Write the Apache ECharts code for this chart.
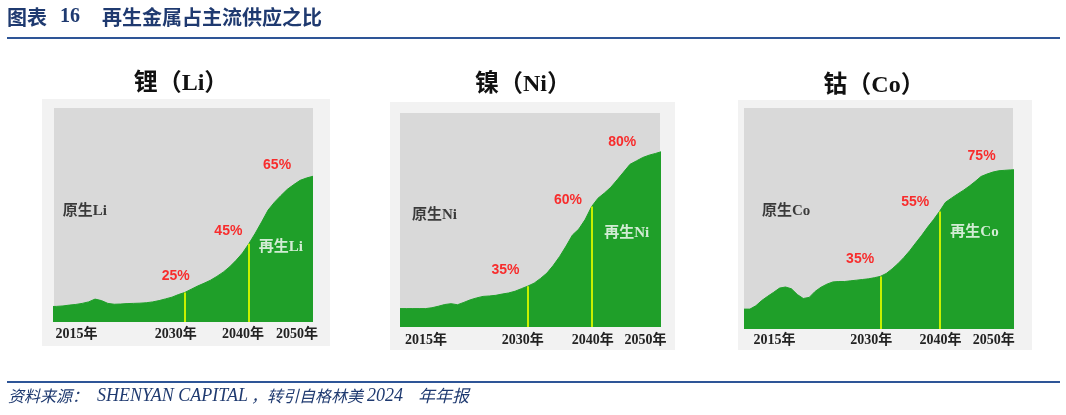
<!DOCTYPE html>
<html><head><meta charset="utf-8">
<script src="https://cdn.jsdelivr.net/npm/echarts@6/dist/echarts.min.js"></script>
<style>html,body{margin:0;padding:0;background:#fff}#c{width:1066px;height:415px}</style>
</head><body><div id="c"></div>
<script>
// ---------- data ----------
const tickYears = [2015, 2030, 2040, 2050];
const markYears = [2030, 2040];

const liYears = [2009,2010,2011,2012,2013,2014,2015,2016,2017,2018,2019,2020,2021,2022,2023,2024,2025,2026,2027,2028,2029,
                 2030,2031,2032,2033,2034,2035,2036,2037,2038,2039,2040,2041,2042,2043,2044,2045,2046,2047,2048,2049,2050];
const liValues = [7.2,7.3,7.5,7.9,8.2,8.7,9.4,10.7,10.0,8.7,8.3,8.4,8.6,8.7,8.8,9.0,9.4,10.0,10.8,11.6,12.8,
                  13.8,15.3,16.8,18.1,19.5,21.3,23.3,25.8,28.8,32.2,36.6,41.5,46.8,52.3,56.0,59.1,62.0,64.2,66.2,67.3,68.1];

const niYears = [2010,2011,2012,2013,2014,2015,2016,2017,2018,2019,2020,2021,2022,2023,2024,2025,2026,2027,2028,2029,
                 2030,2031,2032,2033,2034,2035,2036,2037,2038,2039,2040,2041,2042,2043,2044,2045,2046,2047,2048,2049,2050,2051];
const niValues = [8.6,8.6,8.6,8.6,8.6,9.0,9.7,10.5,10.9,10.4,11.5,12.7,13.6,14.3,14.5,14.8,15.4,15.9,16.7,17.9,
                  19.1,20.5,22.7,25.2,28.8,33.0,37.8,43.0,45.8,50.3,56.3,60.2,62.6,65.3,68.8,72.4,76.0,77.6,79.2,80.3,81.1,82.0];

const coYears = [2007,2008,2009,2010,2011,2012,2013,2014,2015,2016,2017,2018,2019,2020,2021,2022,2023,2024,2025,2026,2027,2028,2029,
                 2030,2031,2032,2033,2034,2035,2036,2037,2038,2039,2040,2041,2042,2043,2044,2045,2046,2047,2048,2049,2050,2051,2052,2053];
const coValues = [9.0,9.0,10.5,12.9,14.8,16.6,18.5,19.0,18.2,15.6,13.8,14.3,17.0,18.9,20.3,21.3,21.5,21.5,21.8,22.1,22.4,22.7,23.2,
                  23.8,25.1,27.2,29.6,32.4,35.5,39.0,42.4,46.1,49.5,53.2,57.3,59.2,61.0,62.7,64.6,66.7,69.0,70.1,71.0,71.6,71.8,72.0,72.1];

const liPctYears = [2028.6, 2036.8, 2044.4];
const liPctValues = [21.2, 42.6, 73.3];
const liPctTexts = ['25%', '45%', '65%'];
const niPctYears = [2026.5, 2036.3, 2044.8];
const niPctValues = [26.6, 59.3, 86.6];
const niPctTexts = ['35%', '60%', '80%'];
const coPctYears = [2026.6, 2035.9, 2047.1];
const coPctValues = [31.8, 57.6, 78.3];
const coPctTexts = ['35%', '55%', '75%'];

const panelTitles = ['锂（Li）', '镍（Ni）', '钴（Co）'];
const primaryNames = ['原生Li', '原生Ni', '原生Co'];
const recycledNames = ['再生Li', '再生Ni', '再生Co'];
const primaryAt = [[2014.4, 51.9], [2015.4, 52.3], [2014.1, 53.5]];
const recycledAt = [[2045.0, 35.0], [2045.5, 43.8], [2045.9, 44.0]];

const chartTitle = ['图表', '16', '再生金属占主流供应之比'];
const sourceParts = ['资料来源：', 'SHENYAN CAPITAL', '，', '转引自格林美', '2024', '年年报'];

// ---------- layout / style ----------
const GREEN = '#1f9f29', INNER = '#d9d9d9', OUTER = '#f2f2f2', MARK = '#c8f000', RED = '#ff0000', NAVY = '#1f3a70', RULE = '#2e5597';
const SERIF = '"Liberation Serif","Noto Sans CJK SC",serif';
const panels = [
  {years: liYears, values: liValues, px: liPctYears, pv: liPctValues, pt: liPctTexts, xr: [2009.6, 2050],
   grid: {left: 54, top: 108, width: 259, height: 214}, box: [42, 99, 288, 247], title: [181, 84], shift: [-12, -9, -6, -16], margin: 5},
  {years: niYears, values: niValues, px: niPctYears, pv: niPctValues, pt: niPctTexts, xr: [2010, 2050.7],
   grid: {left: 400, top: 113, width: 260, height: 214}, box: [390, 102, 285, 248], title: [523, 85], shift: [-6, -5, 1, -10], margin: 6},
  {years: coYears, values: coValues, px: coPctYears, pv: coPctValues, pt: coPctTexts, xr: [2007, 2052.4],
   grid: {left: 744, top: 108, width: 269, height: 221}, box: [738, 100, 294, 250], title: [874, 86], shift: [-17, -9, 1, -5], margin: 4}
];

const grids = [], xAxes = [], yAxes = [], series = [], graphics = [];
const textSeries = (i, pts, names, label) => ({
  type: 'scatter', xAxisIndex: i, yAxisIndex: i, silent: true, z: 10, symbolSize: 1,
  itemStyle: {color: 'rgba(0,0,0,0)'},
  data: pts.map((pt, k) => ({value: pt, name: names[k]})),
  label: Object.assign({show: true, position: 'inside', formatter: '{b}'}, label),
  labelLayout: {hideOverlap: false}
});
panels.forEach((p, i) => {
  grids.push(Object.assign({show: true, backgroundColor: INNER, borderWidth: 0}, p.grid));
  const rich = {};
  p.shift.forEach((s, k) => {
    rich['t' + k] = {fontFamily: SERIF, fontSize: 14, fontWeight: 'bold', color: '#222',
      padding: s < 0 ? [0, -2 * s, 0, 0] : [0, 0, 0, 2 * s]};
  });
  xAxes.push({type: 'value', gridIndex: i, min: p.xr[0], max: p.xr[1],
    axisLine: {show: false}, axisTick: {show: false}, splitLine: {show: false},
    axisLabel: {customValues: tickYears, margin: p.margin, showMinLabel: true, showMaxLabel: true,
      formatter: v => '{t' + tickYears.indexOf(v) + '|' + v + '年}', rich: rich}});
  yAxes.push({type: 'value', gridIndex: i, min: 0, max: 100, show: false});
  series.push({type: 'line', xAxisIndex: i, yAxisIndex: i, clip: true, showSymbol: false, symbol: 'none', silent: true,
    data: p.years.map((y, k) => [y, p.values[k]]),
    lineStyle: {color: GREEN, width: 1}, areaStyle: {color: GREEN, opacity: 1},
    markLine: {silent: true, symbol: ['none', 'none'], label: {show: false}, animation: false,
      lineStyle: {color: MARK, width: 2, type: 'solid'},
      data: markYears.map(y => [{coord: [y, 0]}, {coord: [y, p.values[p.years.indexOf(y)]]}])}
  });
  series.push(textSeries(i, p.px.map((x, k) => [x, p.pv[k]]), p.pt,
    {color: RED, fontSize: 14, fontWeight: 'bold', fontFamily: '"Liberation Sans",Arial,sans-serif'}));
  series.push(textSeries(i, [primaryAt[i]], [primaryNames[i]],
    {color: '#111111', fontSize: 15, fontWeight: 'bold', fontFamily: SERIF}));
  series.push(textSeries(i, [recycledAt[i]], [recycledNames[i]],
    {color: '#ffffff', fontSize: 15, fontWeight: 'bold', fontFamily: SERIF}));
  graphics.push({type: 'rect', z: -100, shape: {x: p.box[0], y: p.box[1], width: p.box[2], height: p.box[3]}, style: {fill: OUTER}});
  graphics.push({type: 'text', x: p.title[0], y: p.title[1],
    style: {text: panelTitles[i], fill: '#111111', font: 'bold 24px ' + SERIF, textAlign: 'center', textVerticalAlign: 'middle'}});
});

graphics.push({type: 'text', x: 7, y: 17, style: {text: chartTitle[0], fill: NAVY, font: 'bold 20px "Noto Sans CJK SC"', textVerticalAlign: 'middle'}});
graphics.push({type: 'text', x: 60, y: 17, style: {text: chartTitle[1], fill: NAVY, font: 'bold 20px "Liberation Serif"', textVerticalAlign: 'middle'}});
graphics.push({type: 'text', x: 102, y: 17, style: {text: chartTitle[2], fill: NAVY, font: 'bold 20px "Noto Sans CJK SC"', textVerticalAlign: 'middle'}});
graphics.push({type: 'rect', shape: {x: 7, y: 37, width: 1053, height: 2}, style: {fill: RULE}});
graphics.push({type: 'rect', shape: {x: 7, y: 381, width: 1053, height: 2}, style: {fill: RULE}});
const srcX = [8, 97, 251, 267, 367, 418];
const srcFont = ['italic 16px "Noto Sans CJK SC"', 'italic 18px "Liberation Serif"', 'italic 16px "Noto Sans CJK SC"',
                 'italic 16px "Noto Sans CJK SC"', 'italic 18px "Liberation Serif"', 'italic 17px "Noto Sans CJK SC"'];
sourceParts.forEach((t, k) => graphics.push({type: 'text', x: srcX[k], y: 396,
  style: {text: t, fill: NAVY, font: srcFont[k], textVerticalAlign: 'middle'}}));

const chart = echarts.init(document.getElementById('c'), null, {renderer: 'canvas'});
chart.setOption({
  animation: false,
  backgroundColor: '#ffffff',
  grid: grids, xAxis: xAxes, yAxis: yAxes, series: series, graphic: graphics
});
</script>
</body></html>
